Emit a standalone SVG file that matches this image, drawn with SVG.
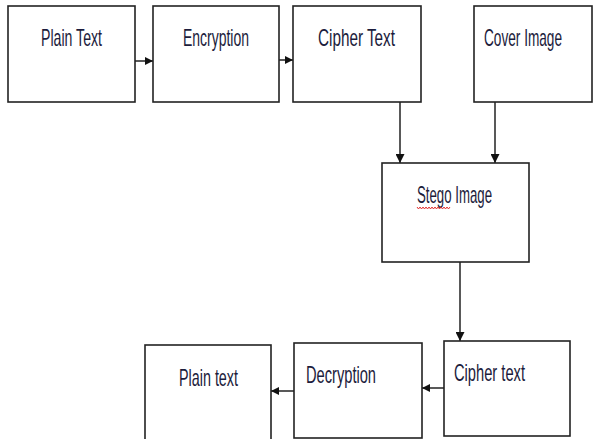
<svg xmlns="http://www.w3.org/2000/svg" width="594" height="439" viewBox="0 0 594 439">
<defs>
<style>
.box{fill:#fff;stroke:#222;stroke-width:1.6}
.lbl{font-family:"Liberation Sans",Arial,sans-serif;font-size:18px;fill:#1c1c3c}
.con{stroke:#222;stroke-width:1.5;fill:none}
</style>
<marker id="ah" viewBox="0 0 10 10" refX="10" refY="5" markerWidth="8" markerHeight="9" markerUnits="userSpaceOnUse" orient="auto">
<path d="M0,0 L10,5 L0,10 z" fill="#111"/>
</marker>
<marker id="ahv" viewBox="0 0 10 10" refX="10" refY="5" markerWidth="14" markerHeight="9" markerUnits="userSpaceOnUse" orient="auto">
<path d="M0,0 L10,5 L0,10 z" fill="#111"/>
</marker>
</defs>
<rect width="594" height="439" fill="#fff"/>
<g id="connectors">
<line class="con" x1="135" y1="61" x2="153" y2="61" marker-end="url(#ah)"/>
<line class="con" x1="279" y1="60" x2="293" y2="60" marker-end="url(#ah)"/>
<line class="con" x1="400" y1="102" x2="400" y2="163" marker-end="url(#ahv)"/>
<line class="con" x1="495" y1="102" x2="495" y2="163" marker-end="url(#ahv)"/>
<line class="con" x1="460" y1="262" x2="460" y2="341" marker-end="url(#ahv)"/>
<line class="con" x1="444" y1="388" x2="422" y2="388" marker-end="url(#ah)"/>
<line class="con" x1="294" y1="391" x2="271" y2="391" marker-end="url(#ah)"/>
</g>
<g id="plain-text-1">
<rect class="box" x="8" y="6" width="127" height="96"/>
<text class="lbl" transform="translate(41,46) scale(1,1.3)" textLength="61" lengthAdjust="spacingAndGlyphs">Plain Text</text>
</g>
<g id="encryption">
<rect class="box" x="153" y="6" width="126" height="96"/>
<text class="lbl" transform="translate(183,46) scale(1,1.3)" textLength="66" lengthAdjust="spacingAndGlyphs">Encryption</text>
</g>
<g id="cipher-text-1">
<rect class="box" x="293" y="6" width="128" height="96"/>
<text class="lbl" transform="translate(318,46) scale(1,1.3)" textLength="77" lengthAdjust="spacingAndGlyphs">Cipher Text</text>
</g>
<g id="cover-image">
<rect class="box" x="474" y="6" width="118" height="96"/>
<text class="lbl" transform="translate(484,46) scale(1,1.3)" textLength="78" lengthAdjust="spacingAndGlyphs">Cover Image</text>
</g>
<g id="stego-image">
<rect class="box" x="382" y="163" width="147" height="99"/>
<text class="lbl" transform="translate(417,203) scale(1,1.3)" textLength="75" lengthAdjust="spacingAndGlyphs">Stego Image</text>
<polyline points="417,207 418.5,209 420,207 421.5,209 423,207 424.5,209 426,207 427.5,209 429,207 430.5,209 432,207 433.5,209 435,207 436.5,209 438,207 439.5,209 441,207 442.5,209 444,207 445.5,209 447,207 448.5,209 450,207" fill="none" stroke="#e02020" stroke-width="0.9"/>
</g>
<g id="cipher-text-2">
<rect class="box" x="444" y="341" width="126" height="95"/>
<text class="lbl" transform="translate(454,381) scale(1,1.3)" textLength="71" lengthAdjust="spacingAndGlyphs">Cipher text</text>
</g>
<g id="decryption">
<rect class="box" x="294" y="343" width="128" height="95"/>
<text class="lbl" transform="translate(306,383) scale(1,1.3)" textLength="70" lengthAdjust="spacingAndGlyphs">Decryption</text>
</g>
<g id="plain-text-2">
<rect class="box" x="145" y="345" width="126" height="100"/>
<text class="lbl" transform="translate(179,386) scale(1,1.3)" textLength="59" lengthAdjust="spacingAndGlyphs">Plain text</text>
</g>
</svg>
